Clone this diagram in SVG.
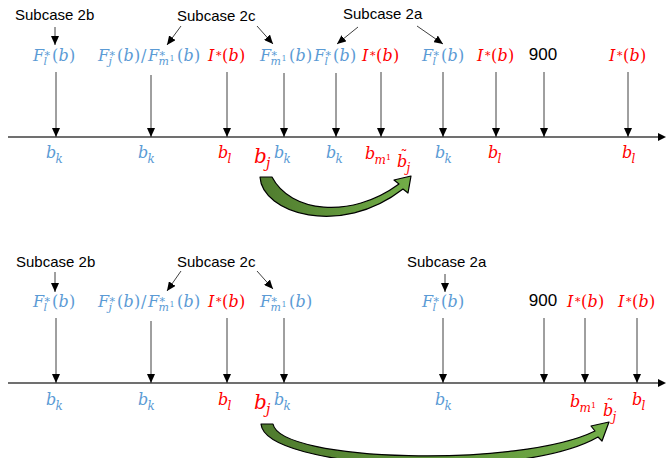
<svg xmlns="http://www.w3.org/2000/svg" width="666" height="458" viewBox="0 0 666 458">
<style>
.sc{font-family:"Liberation Sans",Arial,sans-serif;font-size:15px;fill:#000}
.n9{font-family:"Liberation Sans",Arial,sans-serif;font-size:17px;fill:#000;text-anchor:middle}
.m{font-family:"DejaVu Serif",serif;font-size:16px}
.a{font-family:"DejaVu Serif",serif;font-size:16px}
.bj{font-family:"DejaVu Serif",serif;font-size:20px}
.bl{fill:#5B9BD5}
.rd{fill:#FF0000}
.i{font-style:italic}
.s{font-size:11px}
.s12{font-size:12px}
.s14{font-size:14px}
.ss{font-size:8px}
.ar{stroke:#404040;stroke-width:1;fill:none;marker-end:url(#ah)}
.ax{stroke:#404040;stroke-width:1.4;fill:none}
.gr{fill:url(#gg);stroke:#000;stroke-width:1.2;stroke-linejoin:round}
</style>
<defs>
<marker id="ah" viewBox="0 0 9 8" refX="9" refY="4" markerWidth="9" markerHeight="8" markerUnits="userSpaceOnUse" orient="auto">
<path d="M0,0 L9,4 L0,8 z" fill="#000"/>
</marker>
<linearGradient id="gg" x1="0" y1="0" x2="1" y2="0">
<stop offset="0" stop-color="#4F7B2E"/>
<stop offset="1" stop-color="#72AE48"/>
</linearGradient>
</defs>

<!-- ===== TOP PANEL ===== -->
<g id="top-axis">
<line class="ax" x1="8" y1="137" x2="659" y2="137"/>
<path d="M658,133 L666,137 L658,141 z" fill="#000"/>
</g>

<g id="top-subcase-labels">
<text class="sc" x="15" y="20">Subcase 2b</text>
<text class="sc" x="177" y="21">Subcase 2c</text>
<text class="sc" x="343" y="19">Subcase 2a</text>
</g>

<g id="top-connectors">
<line class="ar" x1="55" y1="27" x2="55" y2="45"/>
<line class="ar" x1="181" y1="26" x2="167" y2="45"/>
<line class="ar" x1="257" y1="26" x2="273" y2="44"/>
<line class="ar" x1="358" y1="27" x2="337" y2="44"/>
<line class="ar" x1="417" y1="26" x2="443" y2="44"/>
<line class="ar" x1="56" y1="72" x2="56" y2="137"/>
<line class="ar" x1="151" y1="75" x2="151" y2="137"/>
<line class="ar" x1="227" y1="72" x2="227" y2="137"/>
<line class="ar" x1="284" y1="73" x2="284" y2="137"/>
<line class="ar" x1="336" y1="73" x2="336" y2="137"/>
<line class="ar" x1="381" y1="72" x2="381" y2="137"/>
<line class="ar" x1="443" y1="72" x2="443" y2="137"/>
<line class="ar" x1="496" y1="72" x2="496" y2="137"/>
<line class="ar" x1="544" y1="72" x2="544" y2="137"/>
<line class="ar" x1="628" y1="72" x2="628" y2="137"/>
</g>

<g id="top-point-labels">
<text class="m bl"><tspan x="33" y="61" class="i">F</tspan><tspan x="43.5" y="65" class="i s">l</tspan><tspan x="44.5" y="58.5" class="s">*</tspan><tspan x="52" y="61">(</tspan><tspan x="58.5" y="61" class="i">b</tspan><tspan x="69" y="61">)</tspan></text>
<text class="m bl"><tspan x="98" y="61" class="i">F</tspan><tspan x="108.5" y="65" class="i s">j</tspan><tspan x="109.5" y="58.5" class="s">*</tspan><tspan x="117" y="61">(</tspan><tspan x="123.5" y="61" class="i">b</tspan><tspan x="134" y="61">)</tspan><tspan x="141" y="61">/</tspan><tspan x="148" y="61" class="i">F</tspan><tspan x="158.5" y="65" class="i s">m</tspan><tspan x="169.5" y="61" class="ss">1</tspan><tspan x="159.5" y="58.5" class="s">*</tspan><tspan x="177" y="61">(</tspan><tspan x="183.5" y="61" class="i">b</tspan><tspan x="194" y="61">)</tspan></text>
<text class="m rd"><tspan x="208" y="61" class="i">I</tspan><tspan x="216" y="58.5" class="s">*</tspan><tspan x="222" y="61">(</tspan><tspan x="228.5" y="61" class="i">b</tspan><tspan x="239" y="61">)</tspan></text>
<text class="m bl"><tspan x="260" y="61" class="i">F</tspan><tspan x="270.5" y="65" class="i s">m</tspan><tspan x="281.5" y="61" class="ss">1</tspan><tspan x="271.5" y="58.5" class="s">*</tspan><tspan x="289" y="61">(</tspan><tspan x="295.5" y="61" class="i">b</tspan><tspan x="306" y="61">)</tspan></text>
<text class="m bl"><tspan x="314" y="61" class="i">F</tspan><tspan x="324.5" y="65" class="i s">l</tspan><tspan x="325.5" y="58.5" class="s">*</tspan><tspan x="333" y="61">(</tspan><tspan x="339.5" y="61" class="i">b</tspan><tspan x="350" y="61">)</tspan></text>
<text class="m rd"><tspan x="362" y="61" class="i">I</tspan><tspan x="370" y="58.5" class="s">*</tspan><tspan x="376" y="61">(</tspan><tspan x="382.5" y="61" class="i">b</tspan><tspan x="393" y="61">)</tspan></text>
<text class="m bl"><tspan x="422" y="61" class="i">F</tspan><tspan x="432.5" y="65" class="i s">l</tspan><tspan x="433.5" y="58.5" class="s">*</tspan><tspan x="441" y="61">(</tspan><tspan x="447.5" y="61" class="i">b</tspan><tspan x="458" y="61">)</tspan></text>
<text class="m rd"><tspan x="477" y="61" class="i">I</tspan><tspan x="485" y="58.5" class="s">*</tspan><tspan x="491" y="61">(</tspan><tspan x="497.5" y="61" class="i">b</tspan><tspan x="508" y="61">)</tspan></text>
<text class="n9" x="543" y="60">900</text>
<text class="m rd"><tspan x="609" y="61" class="i">I</tspan><tspan x="617" y="58.5" class="s">*</tspan><tspan x="623" y="61">(</tspan><tspan x="629.5" y="61" class="i">b</tspan><tspan x="640" y="61">)</tspan></text>
</g>

<g id="top-axis-labels">
<text class="a bl"><tspan x="46" y="158" class="i">b</tspan><tspan x="55.5" y="163" class="i s12">k</tspan></text>
<text class="a bl"><tspan x="138" y="158" class="i">b</tspan><tspan x="147.5" y="163" class="i s12">k</tspan></text>
<text class="a rd"><tspan x="218" y="158" class="i">b</tspan><tspan x="227.5" y="163" class="i s12">l</tspan></text>
<text class="bj rd"><tspan x="254" y="163" class="i">b</tspan><tspan x="266" y="168" class="i s14">j</tspan></text>
<text class="a bl"><tspan x="274" y="158" class="i">b</tspan><tspan x="283.5" y="163" class="i s12">k</tspan></text>
<text class="a bl"><tspan x="326" y="158" class="i">b</tspan><tspan x="335.5" y="163" class="i s12">k</tspan></text>
<text class="a rd"><tspan x="365" y="159" class="i">b</tspan><tspan x="374.5" y="164" class="i s12">m</tspan><tspan x="386" y="160" class="ss">1</tspan></text>
<text class="a rd"><tspan x="397" y="167" class="i">b</tspan><tspan x="400.5" y="161" class="s14">˜</tspan><tspan x="406.5" y="172" class="i s12">j</tspan></text>
<text class="a bl"><tspan x="435" y="158" class="i">b</tspan><tspan x="444.5" y="163" class="i s12">k</tspan></text>
<text class="a rd"><tspan x="488" y="158" class="i">b</tspan><tspan x="497.5" y="163" class="i s12">l</tspan></text>
<text class="a rd"><tspan x="622" y="158" class="i">b</tspan><tspan x="631.5" y="163" class="i s12">l</tspan></text>
</g>

<g id="top-curved-arrow">
<path class="gr" d="M260,177 C262,213 340,238 403,189 L408,193 L411,176 L394,180 L399,184 C350,220 290,212 272,177 Z"/>
</g>

<!-- ===== BOTTOM PANEL ===== -->
<g id="bottom-axis">
<line class="ax" x1="8" y1="383" x2="659" y2="383"/>
<path d="M658,379 L666,383 L658,387 z" fill="#000"/>
</g>

<g id="bottom-subcase-labels">
<text class="sc" x="16" y="267">Subcase 2b</text>
<text class="sc" x="177" y="267">Subcase 2c</text>
<text class="sc" x="407" y="267">Subcase 2a</text>
</g>

<g id="bottom-connectors">
<line class="ar" x1="55" y1="272" x2="55" y2="292"/>
<line class="ar" x1="181" y1="271" x2="167" y2="291"/>
<line class="ar" x1="257" y1="271" x2="273" y2="289"/>
<line class="ar" x1="445" y1="274" x2="445" y2="292"/>
<line class="ar" x1="56" y1="318" x2="56" y2="383"/>
<line class="ar" x1="151" y1="321" x2="151" y2="383"/>
<line class="ar" x1="227" y1="318" x2="227" y2="383"/>
<line class="ar" x1="284" y1="318" x2="284" y2="383"/>
<line class="ar" x1="443" y1="318" x2="443" y2="383"/>
<line class="ar" x1="544" y1="318" x2="544" y2="383"/>
<line class="ar" x1="585" y1="318" x2="585" y2="383"/>
<line class="ar" x1="637" y1="318" x2="637" y2="383"/>
</g>

<g id="bottom-point-labels">
<text class="m bl"><tspan x="33" y="307" class="i">F</tspan><tspan x="43.5" y="311" class="i s">l</tspan><tspan x="44.5" y="304.5" class="s">*</tspan><tspan x="52" y="307">(</tspan><tspan x="58.5" y="307" class="i">b</tspan><tspan x="69" y="307">)</tspan></text>
<text class="m bl"><tspan x="98" y="307" class="i">F</tspan><tspan x="108.5" y="311" class="i s">j</tspan><tspan x="109.5" y="304.5" class="s">*</tspan><tspan x="117" y="307">(</tspan><tspan x="123.5" y="307" class="i">b</tspan><tspan x="134" y="307">)</tspan><tspan x="141" y="307">/</tspan><tspan x="148" y="307" class="i">F</tspan><tspan x="158.5" y="311" class="i s">m</tspan><tspan x="169.5" y="307" class="ss">1</tspan><tspan x="159.5" y="304.5" class="s">*</tspan><tspan x="177" y="307">(</tspan><tspan x="183.5" y="307" class="i">b</tspan><tspan x="194" y="307">)</tspan></text>
<text class="m rd"><tspan x="208" y="307" class="i">I</tspan><tspan x="216" y="304.5" class="s">*</tspan><tspan x="222" y="307">(</tspan><tspan x="228.5" y="307" class="i">b</tspan><tspan x="239" y="307">)</tspan></text>
<text class="m bl"><tspan x="260" y="307" class="i">F</tspan><tspan x="270.5" y="311" class="i s">m</tspan><tspan x="281.5" y="307" class="ss">1</tspan><tspan x="271.5" y="304.5" class="s">*</tspan><tspan x="289" y="307">(</tspan><tspan x="295.5" y="307" class="i">b</tspan><tspan x="306" y="307">)</tspan></text>
<text class="m bl"><tspan x="422" y="307" class="i">F</tspan><tspan x="432.5" y="311" class="i s">l</tspan><tspan x="433.5" y="304.5" class="s">*</tspan><tspan x="441" y="307">(</tspan><tspan x="447.5" y="307" class="i">b</tspan><tspan x="458" y="307">)</tspan></text>
<text class="n9" x="543" y="306">900</text>
<text class="m rd"><tspan x="567" y="307" class="i">I</tspan><tspan x="575" y="304.5" class="s">*</tspan><tspan x="581" y="307">(</tspan><tspan x="587.5" y="307" class="i">b</tspan><tspan x="598" y="307">)</tspan></text>
<text class="m rd"><tspan x="618" y="307" class="i">I</tspan><tspan x="626" y="304.5" class="s">*</tspan><tspan x="632" y="307">(</tspan><tspan x="638.5" y="307" class="i">b</tspan><tspan x="649" y="307">)</tspan></text>
</g>

<g id="bottom-axis-labels">
<text class="a bl"><tspan x="46" y="405" class="i">b</tspan><tspan x="55.5" y="410" class="i s12">k</tspan></text>
<text class="a bl"><tspan x="138" y="405" class="i">b</tspan><tspan x="147.5" y="410" class="i s12">k</tspan></text>
<text class="a rd"><tspan x="218" y="405" class="i">b</tspan><tspan x="227.5" y="410" class="i s12">l</tspan></text>
<text class="bj rd"><tspan x="254" y="409" class="i">b</tspan><tspan x="266" y="414" class="i s14">j</tspan></text>
<text class="a bl"><tspan x="274" y="405" class="i">b</tspan><tspan x="283.5" y="410" class="i s12">k</tspan></text>
<text class="a bl"><tspan x="435" y="405" class="i">b</tspan><tspan x="444.5" y="410" class="i s12">k</tspan></text>
<text class="a rd"><tspan x="570" y="407" class="i">b</tspan><tspan x="579.5" y="412" class="i s12">m</tspan><tspan x="591" y="408" class="ss">1</tspan></text>
<text class="a rd"><tspan x="603" y="416" class="i">b</tspan><tspan x="606.5" y="410" class="s14">˜</tspan><tspan x="612.5" y="421" class="i s12">j</tspan></text>
<text class="a rd"><tspan x="632" y="405" class="i">b</tspan><tspan x="641.5" y="410" class="i s12">l</tspan></text>
</g>

<g id="bottom-curved-arrow">
<path class="gr" d="M261,424 C265,470 520,482 598,437 L602,441 L609,422 L591,426 L595,431 C520,468 280,462 273,424 Z"/>
</g>
</svg>
